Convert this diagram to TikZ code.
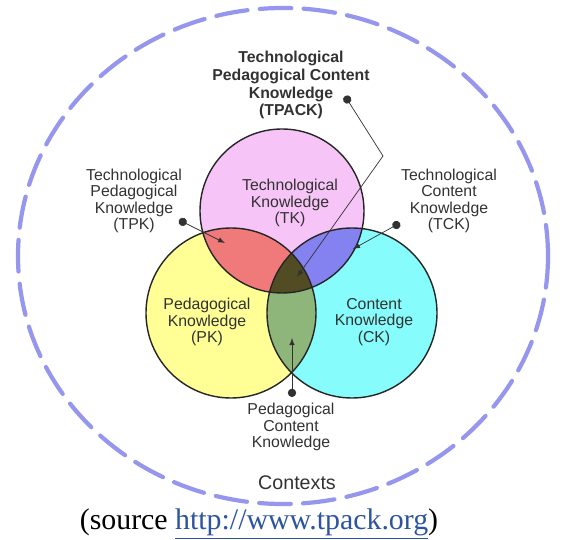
\documentclass[tikz,border=0pt]{standalone}
\usepackage{fontspec}
\setmainfont{Liberation Serif}
\setsansfont{Liberation Sans}
\usepackage{tikz}
\usetikzlibrary{arrows,positioning}
\definecolor{rose}{RGB}{246,196,246}
\definecolor{jaune}{RGB}{255,255,150}
\definecolor{turquoise}{RGB}{135,252,252}
\definecolor{rouge}{RGB}{240,122,122}
\definecolor{bleu}{RGB}{132,130,240}
\definecolor{vert}{RGB}{142,182,122}
\definecolor{kaki}{RGB}{82,76,36}
\definecolor{ctx}{RGB}{150,150,238}
\definecolor{lien}{RGB}{44,84,160}
\definecolor{gris}{RGB}{50,50,50}
\newcommand\tkc{(282,211) circle[radius=82]}
\newcommand\pkc{(231,313) circle[radius=85]}
\newcommand\ckc{(352,313) circle[radius=85]}

\begin{document}
\begin{tikzpicture}[x=.02cm,y=-.02cm]%
        \useasboundingbox (0,0) rectangle (565,540); %%
        % contexts
        \draw[ctx,line width=2.4pt,dash pattern=on 18pt off 7pt,line cap=round] (283,256) ellipse[x radius=265,y radius=248]; %%
        % the three knowledge circles and their overlaps
        \fill[rose] \tkc; %%
        \fill[jaune] \pkc; %%
        \fill[turquoise] \ckc; %%
        \begin{scope} \clip \tkc; \fill[rouge] \pkc; \end{scope} %%
        \begin{scope} \clip \tkc; \fill[bleu] \ckc; \end{scope} %%
        \begin{scope} \clip \pkc; \fill[vert] \ckc; \end{scope} %%
        \begin{scope} \clip \tkc; \clip \pkc; \fill[kaki] \ckc; \end{scope} %%
        \draw[line width=.8pt,black!85] \tkc \pkc \ckc; %%
        \begin{scope}
        \tikzstyle{every node}=[align=center,text=gris,font=\sffamily\fontsize{9}{9.4}\selectfont] %%
        \node[font=\sffamily\bfseries\fontsize{9}{10.2}\selectfont] (tpack) at (291,85) {Technological\\Pedagogical Content\\Knowledge\\(TPACK)}; %%
        \node (tpk) at (134,201) {Technological\\Pedagogical\\Knowledge\\(TPK)}; %%
        \node (tck) at (449,201) {Technological\\Content\\Knowledge\\(TCK)}; %%
        \node (tkl) at (290,203) {Technological\\Knowledge\\(TK)}; %%
        \node (pkl) at (207,322) {Pedagogical\\Knowledge\\(PK)}; %%
        \node (ckl) at (374,322) {Content\\Knowledge\\(CK)}; %%
        \node (pck) at (291,427) {Pedagogical\\Content\\Knowledge}; %%
        \node[font=\sffamily\fontsize{11.2}{12}\selectfont] (ctxl) at (297,483) {Contexts}; %%
        \end{scope}
        \node[font=\fontsize{17}{19}\selectfont] (src) at (259,524) {(source \textcolor{lien}{\underline{http://www.tpack.org}})}; %%
        % pointers
        \coordinate (d1) at (179,220); \coordinate (t1) at (225,243); %%
        \coordinate (d2) at (400,223); \coordinate (t2) at (353,249); %%
        \coordinate (d3) at (345,96); \coordinate (k3) at (383,156); \coordinate (t3) at (297,277); %%
        \coordinate (d4) at (292,397); \coordinate (t4) at (292,338); %%
\draw[*-latex,gris,thin] (d1)--(t1); %%
\draw[*-latex,gris,thin] (d2)--(t2); %%
\draw[*-latex,gris,thin] (d3)--(k3)--(t3); %%
\draw[*-latex,gris,thin] (d4)--(t4); %%
\end{tikzpicture}
\end{document}
